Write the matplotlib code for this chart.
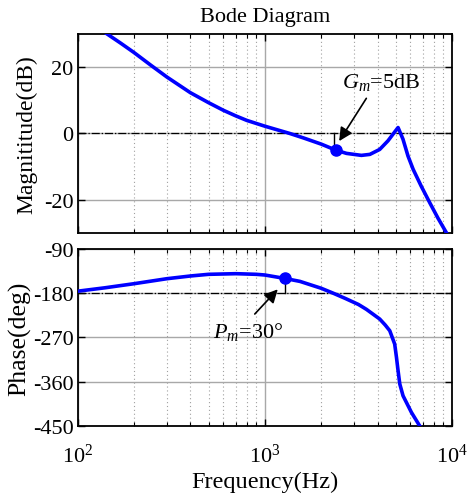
import numpy as np
import matplotlib.pyplot as plt
from matplotlib.ticker import LogLocator, NullFormatter

plt.rcParams['font.family'] = ['Liberation Serif', 'DejaVu Serif']
plt.rcParams['mathtext.fontset'] = 'custom'
plt.rcParams['mathtext.rm'] = 'Liberation Serif'
plt.rcParams['mathtext.it'] = 'Liberation Serif:italic'
plt.rcParams['axes.unicode_minus'] = False

# magnitude curve (Hz, dB)
mag_f = [141, 170, 200, 243, 300, 400, 500, 600, 700, 800, 1000, 1360, 1600,
         2000, 2390, 2730, 3280, 3640, 4110, 4550, 4840, 5150, 5470, 5820,
         6200, 6850, 7610, 8410, 9530]
mag_db = [30.3, 27.2, 24.4, 20.8, 17.0, 12.3, 9.3, 7.0, 5.3, 3.95, 2.2, 0.0,
          -1.3, -3.2, -5.0, -6.0, -6.6, -6.3, -4.8, -2.2, -0.2, 1.8, -1.7,
          -6.8, -10.8, -15.9, -20.9, -25.5, -30.8]

# phase curve (Hz, deg)
ph_f = [100, 140, 200, 300, 400, 500, 700, 900, 1000, 1280, 1540, 2000, 2317,
        2700, 3162, 3490, 4110, 4400, 4650, 4940, 5050, 5150, 5260, 5475,
        6070, 6710]
ph_deg = [-176, -169, -160.7, -150.5, -145, -141.6, -140.3, -141.6, -143,
          -150, -156, -170, -180, -191, -203, -213, -232.7, -245, -256.5,
          -283.6, -310.8, -338, -365, -389, -422.9, -450]

gm_f, gm_db = 2390, -5.0
pm_f, pm_deg = 1280, -150.0

fig = plt.figure(figsize=(4.73, 5.02), dpi=100)
ax1 = fig.add_axes([0.1643, 0.5339, 0.7913, 0.3964])
ax2 = fig.add_axes([0.1643, 0.150, 0.7913, 0.352])

blue = '#0000ff'
for ax in (ax1, ax2):
    ax.set_xscale('log')
    ax.set_xlim(100, 10000)
    ax.xaxis.set_major_locator(LogLocator(base=10, numticks=5))
    ax.xaxis.set_minor_locator(LogLocator(base=10, subs=np.arange(2, 10), numticks=20))
    ax.xaxis.set_minor_formatter(NullFormatter())
    ax.grid(True, which='major', color='#a8a8a8', lw=1.0, ls='-')
    ax.grid(True, which='minor', axis='x', color='#a0a0a0', lw=0.8, ls=(0, (1, 2.5)))
    ax.tick_params(which='both', direction='in', top=True, right=True, labelsize=16)
    ax.tick_params(which='major', length=5, width=1)
    ax.tick_params(which='minor', length=3, width=0.8)
    ax.tick_params(axis='y', pad=3)
    for s in ax.spines.values():
        s.set_linewidth(1.3)
    ax.set_axisbelow(True)

# magnitude
ax1.plot(mag_f, mag_db, color=blue, lw=2.6, zorder=3)
ax1.axhline(0, color='k', lw=0.9, ls='-.', zorder=2)
ax1.plot([gm_f * 0.985, gm_f * 0.985], [gm_db, 0], color='k', lw=1.0, zorder=2)
ax1.plot(gm_f, gm_db, 'o', color=blue, ms=8, zorder=4)
ax1.set_ylim(-30, 30)
ax1.set_yticks([20, 0, -20])
ax1.tick_params(axis='x', labelbottom=False)
ax1.set_ylabel('Magnititude(dB)', fontsize=17, labelpad=5)
ax1.set_title('Bode Diagram', fontsize=16, pad=9)
ax1.annotate('', xy=(2450, -3.0), xytext=(3550, 11.3),
             arrowprops=dict(arrowstyle='-|>', color='k', lw=1.2, mutation_scale=20))
ax1.text(2580, 15.8, '$G_m$=5dB', fontsize=16, va='center', ha='left')

# phase
ax2.plot(ph_f, ph_deg, color=blue, lw=2.6, zorder=3)
ax2.axhline(-180, color='k', lw=0.9, ls='-.', zorder=2)
ax2.plot([pm_f * 0.995, pm_f * 0.995], [pm_deg, -180], color='k', lw=1.0, zorder=2)
ax2.plot(pm_f, pm_deg, 'o', color=blue, ms=8, zorder=4)
ax2.set_ylim(-450, -90)
ax2.set_yticks([-90, -180, -270, -360, -450])
ax2.set_ylabel('Phase(deg)', fontsize=18.5, labelpad=1)
ax2.set_xlabel('Frequency(Hz)', fontsize=17.5, labelpad=3)
ax2.tick_params(axis='x', pad=13)
ax2.annotate('', xy=(1200, -168), xytext=(863, -226.6),
             arrowprops=dict(arrowstyle='-|>', color='k', lw=1.2, mutation_scale=20))
ax2.text(527, -256.5, '$P_m$=30°', fontsize=16, va='center', ha='left')

fig.savefig('out.png', dpi=100)
